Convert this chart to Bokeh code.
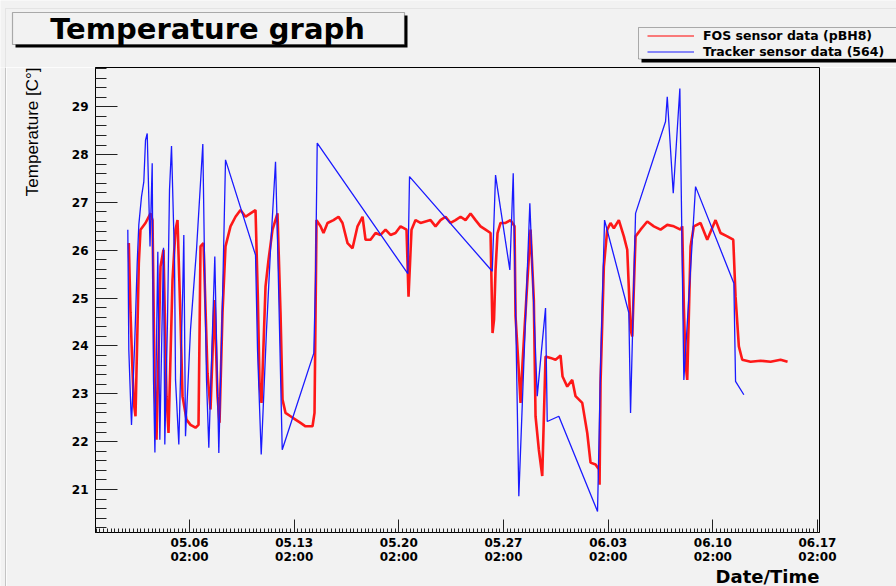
import numpy as np
import pandas as pd
from bokeh.plotting import figure
from bokeh.layouts import column, row
from bokeh.models import (Range1d, FixedTicker, DatetimeTickFormatter, Title, Span,
                          Label, Legend, LegendItem, BoxAnnotation, ColumnDataSource)
from bokeh.embed import file_html
from bokeh.resources import INLINE

# ---------------- data (time = fractional day of May; values > 31 run into June) -------------
fos_day = [2.023, 2.137, 2.250, 2.357, 2.471, 2.605, 2.692, 2.805, 3.140, 3.474,
           3.608, 3.742, 3.876, 4.143, 4.344, 4.545, 4.678, 4.946, 5.147, 5.280,
           5.481, 5.615, 5.882, 6.150, 6.484, 6.685, 6.819, 7.019, 7.287, 7.488,
           7.755, 7.956, 8.090, 8.290, 8.491, 8.825, 9.160, 9.494, 9.829, 10.163,
           10.498, 10.652, 10.765, 10.899, 11.167, 11.367, 11.635, 11.969, 12.170, 12.304,
           12.504, 12.839, 13.173, 13.508, 13.842, 14.311, 14.444, 14.578, 14.846, 15.046,
           15.314, 15.715, 16.050, 16.317, 16.652, 16.986, 17.320, 17.655, 17.856, 18.190,
           18.524, 18.859, 19.193, 19.528, 19.862, 20.197, 20.598, 20.732, 20.932, 21.200,
           21.535, 22.204, 22.538, 22.873, 23.207, 23.542, 23.876, 24.211, 24.545, 24.880,
           25.214, 25.548, 25.883, 26.217, 26.351, 26.451, 26.552, 26.685, 26.886, 27.220,
           27.555, 27.822, 27.889, 28.090, 28.224, 28.357, 28.672, 28.893, 29.113, 29.227,
           29.448, 29.676, 29.896, 30.231, 30.565, 30.900, 31.034, 31.348, 31.683, 31.903,
           32.351, 32.686, 32.906, 33.241, 33.462, 33.509, 33.575, 33.796, 34.023, 34.244,
           34.465, 34.799, 35.134, 35.361, 35.582, 35.696, 35.917, 36.251, 36.699, 37.141,
           37.589, 38.037, 38.478, 38.927, 39.040, 39.147, 39.261, 39.374, 39.595, 39.816,
           40.264, 40.712, 41.267, 41.602, 42.050, 42.452, 42.605, 42.826, 43.053, 43.609,
           44.278, 44.947, 45.616, 46.084]
fos_temp = [26.15, 24.69, 23.65, 22.81, 22.53, 24.41, 25.73, 26.43, 26.57, 26.77,
            26.63, 23.36, 22.04, 25.66, 26.01, 22.95, 22.18, 25.38, 26.43, 26.63,
            24.55, 22.95, 22.46, 22.35, 22.29, 22.35, 26.08, 26.15, 23.43, 22.67,
            24.96, 22.95, 22.39, 24.69, 26.08, 26.50, 26.70, 26.84, 26.70, 26.77,
            26.84, 25.03, 23.23, 22.81, 25.24, 25.80, 26.43, 26.77, 24.69, 22.88,
            22.60, 22.53, 22.46, 22.39, 22.32, 22.32, 22.60, 26.63, 26.50, 26.36,
            26.57, 26.63, 26.70, 26.57, 26.15, 26.04, 26.50, 26.70, 26.22, 26.22,
            26.36, 26.32, 26.43, 26.32, 26.36, 26.50, 26.43, 25.03, 26.43, 26.63,
            26.57, 26.63, 26.50, 26.63, 26.70, 26.57, 26.63, 26.70, 26.63, 26.77,
            26.63, 26.50, 26.43, 26.36, 24.27, 24.55, 25.59, 26.36, 26.57, 26.57,
            26.63, 26.50, 24.62, 23.57, 22.81, 23.64, 25.31, 26.43, 24.96, 22.53,
            21.83, 21.28, 23.78, 23.75, 23.71, 23.80, 23.36, 23.15, 23.29, 22.95,
            22.81, 22.18, 21.56, 21.52, 21.42, 21.10, 23.23, 25.66, 26.43, 26.57,
            26.46, 26.63, 26.29, 26.01, 24.34, 24.20, 26.29, 26.43, 26.60, 26.50,
            26.43, 26.53, 26.50, 26.43, 26.50, 24.82, 23.64, 23.29, 26.08, 26.50,
            26.57, 26.22, 26.63, 26.36, 26.29, 26.22, 25.03, 23.99, 23.71, 23.67,
            23.69, 23.67, 23.71, 23.67]

trk_day = [1.956, 1.983, 2.023, 2.137, 2.203, 2.424, 2.585, 2.692, 2.872, 3.026,
           3.140, 3.254, 3.441, 3.588, 3.675, 3.769, 3.963, 4.097, 4.344, 4.431,
           4.612, 4.745, 4.879, 5.080, 5.147, 5.368, 5.635, 5.702, 5.815, 6.150,
           6.551, 6.973, 7.086, 7.220, 7.374, 7.775, 8.043, 8.290, 8.491, 10.498,
           10.632, 10.879, 11.234, 11.501, 11.836, 11.969, 12.284, 14.397, 14.511, 14.625,
           20.685, 20.799, 26.331, 26.552, 26.665, 27.508, 27.735, 27.822, 28.110, 28.846,
           29.341, 29.608, 29.896, 30.009, 30.785, 33.374, 33.575, 33.843, 35.468, 35.582,
           35.917, 37.923, 38.037, 38.438, 38.880, 39.147, 39.930, 42.492, 42.605, 43.160]
trk_temp = [26.43, 25.45, 23.92, 22.88, 22.35, 24.13, 25.74, 26.53, 27.12, 27.43,
            28.30, 28.44, 26.08, 27.82, 23.29, 21.77, 25.97, 22.04, 26.05, 21.94,
            24.55, 27.26, 28.18, 25.80, 23.29, 21.94, 25.24, 26.32, 22.11, 24.34,
            26.01, 28.22, 25.80, 23.29, 21.87, 25.87, 21.76, 24.96, 27.89, 25.90,
            23.92, 21.73, 24.34, 26.01, 27.85, 26.22, 21.83, 23.85, 25.38, 28.24,
            25.51, 27.54, 25.56, 27.57, 27.33, 25.59, 27.61, 26.01, 20.86, 26.98,
            22.95, 23.85, 24.79, 22.42, 22.53, 20.54, 23.57, 26.63, 24.69, 22.60,
            26.77, 28.69, 29.21, 27.19, 29.38, 23.29, 27.33, 25.31, 23.26, 22.98]

series_names = ["FOS sensor data (pBH8)", "Tracker sensor data (564)"]
series_colors = ["#ff0000", "#1a1aff"]
major_tick_times = ["2011-05-06 02:00", "2011-05-13 02:00", "2011-05-20 02:00", "2011-05-27 02:00",
                    "2011-06-03 02:00", "2011-06-10 02:00", "2011-06-17 02:00"]
y_ticks = [21, 22, 23, 24, 25, 26, 27, 28, 29]

# ---------------- helpers ----------------
BASE = pd.Timestamp("2011-05-01 00:00")


def to_time(days):
    return BASE + pd.to_timedelta(np.asarray(days, dtype=float) - 1.0, unit="D")


def ms(ts):
    return pd.Timestamp(ts).value / 1e6


BG = "#f2f2f2"
BORDER = "#c4c4c4"
BOLD = "DejaVu Sans"
W, H_TOP, H_MAIN, W_STRIP = 896, 67, 519, 6


def blank(width, height):
    f = figure(width=width, height=height, x_range=Range1d(0, width),
               y_range=Range1d(height, 0),
               output_backend="svg", toolbar_location=None,
               x_axis_location=None, y_axis_location=None,
               min_border=0, min_border_left=0, min_border_right=0,
               min_border_top=0, min_border_bottom=0,
               background_fill_color=BG, border_fill_color=BG, outline_line_color=None)
    f.grid.visible = False
    f.frame_align = False
    return f


# ================= header strip: title box + legend =================
top = blank(W, H_TOP)
top.add_layout(BoxAnnotation(left=5, right=1200, top=8, bottom=1200,
                             fill_alpha=0, line_color=BORDER, line_width=1))
# title box with drop shadow
top.add_layout(BoxAnnotation(left=15, right=407, top=15, bottom=47,
                             fill_color="black", fill_alpha=1, line_color=None))
top.add_layout(BoxAnnotation(left=12, right=404, top=12, bottom=44,
                             fill_color=BG, fill_alpha=1, line_color="black", line_width=1.2))
top.add_layout(Label(x=207, y=28, text="Temperature graph", text_align="center",
                     text_baseline="middle", text_font=BOLD, text_font_style="bold",
                     text_font_size="29px", text_color="black"))

# legend frame with drop shadow
top.add_layout(BoxAnnotation(left=641, right=1200, top=30, bottom=62,
                             fill_color="black", fill_alpha=1, line_color=None))
top.add_layout(BoxAnnotation(left=638, right=1200, top=27, bottom=58.5,
                             fill_color=BG, fill_alpha=1, line_color="black", line_width=1))
# legend proxies (drawn off-view; only their styles are used by the legend)
proxy_fos = top.line(x=[-50, -40], y=[-50, -40], line_color=series_colors[0], line_width=1.2)
proxy_trk = top.line(x=[-50, -40], y=[-50, -40], line_color=series_colors[1], line_width=1.2)
legend = Legend(items=[LegendItem(label=series_names[0], renderers=[proxy_fos]),
                       LegendItem(label=series_names[1], renderers=[proxy_trk])],
                location=(647, H_TOP - 58.5), orientation="vertical",
                background_fill_alpha=0, border_line_color=None,
                label_text_font=BOLD, label_text_font_style="bold",
                label_text_font_size="12.5px", label_text_color="black",
                glyph_width=47, glyph_height=15, label_height=15,
                label_standoff=9, spacing=1, padding=0, margin=0)
top.add_layout(legend)

# ================= left strip (canvas border line) =================
strip = blank(W_STRIP, H_MAIN)
strip.add_layout(Span(location=5, dimension="height", line_color=BORDER, line_width=1))

# ================= main plot =================
x_start = to_time([-0.205])[0]
x_end = to_time([48.22])[0]

p = figure(width=W - W_STRIP, height=H_MAIN, x_axis_type="datetime",
           x_range=Range1d(x_start, x_end), y_range=Range1d(20.10, 29.82),
           output_backend="svg", toolbar_location=None,
           min_border_left=95 - W_STRIP, min_border_right=77, min_border_top=0,
           min_border_bottom=54,
           background_fill_color=BG, border_fill_color=BG)
p.frame_align = False
p.grid.visible = False
p.outline_line_color = "black"
p.outline_line_width = 1

src_fos = ColumnDataSource(dict(t=to_time(fos_day), v=fos_temp))
src_trk = ColumnDataSource(dict(t=to_time(trk_day), v=trk_temp))
p.line("t", "v", source=src_fos, line_color=series_colors[0], line_width=2.6, line_alpha=0.9)
p.line("t", "v", source=src_trk, line_color=series_colors[1], line_width=1.3)

xa = p.xaxis[0]
major = [ms(t) for t in major_tick_times]
minor = [ms(t) for t in pd.date_range("2011-04-29 20:00", "2011-06-17 08:00", freq="6h")]
xa.ticker = FixedTicker(ticks=major, minor_ticks=minor)
fmt = "%m.%d\n%H:%M"
xa.formatter = DatetimeTickFormatter(microseconds=fmt, milliseconds=fmt, seconds=fmt, minsec=fmt,
                                     minutes=fmt, hourmin=fmt, hours=fmt, days=fmt,
                                     months=fmt, years=fmt)
xa.major_tick_in = 13
xa.major_tick_out = 0
xa.minor_tick_in = 4
xa.minor_tick_out = 0
xa.major_label_standoff = 3
xa.major_label_text_font = BOLD
xa.major_label_text_font_style = "bold"
xa.major_label_text_font_size = "12px"
xa.major_label_text_line_height = 1.0
xa.major_label_text_color = "black"

ya = p.yaxis[0]
ya.ticker = FixedTicker(ticks=y_ticks,
                        minor_ticks=[round(20.2 + 0.2 * i, 1) for i in range(49)])
ya.major_tick_in = 22
ya.major_tick_out = 0
ya.minor_tick_in = 11
ya.minor_tick_out = 0
ya.major_label_standoff = 7
ya.major_label_text_font = BOLD
ya.major_label_text_font_style = "bold"
ya.major_label_text_font_size = "12px"
ya.major_label_text_color = "black"

for ax in (xa, ya):
    ax.axis_line_color = "black"
    ax.major_tick_line_color = "#222222"
    ax.minor_tick_line_color = "#222222"

# axis titles as side-panel titles aligned to the far end of each axis
p.add_layout(Title(text=" ", standoff=22, text_font_size="1px"), "left")   # gap
p.add_layout(Title(text="Temperature [C°]", align="right", standoff=4,
                   text_font="Liberation Sans", text_font_style="normal",
                   text_font_size="17px", text_color="black"), "left")
p.add_layout(Title(text="Date/Time", align="right", standoff=-5,
                   text_font=BOLD, text_font_style="bold",
                   text_font_size="18px", text_color="black"), "below")

layout = column(top, row(strip, p, spacing=0), spacing=0)
open("out.html", "w").write(file_html(layout, INLINE))
